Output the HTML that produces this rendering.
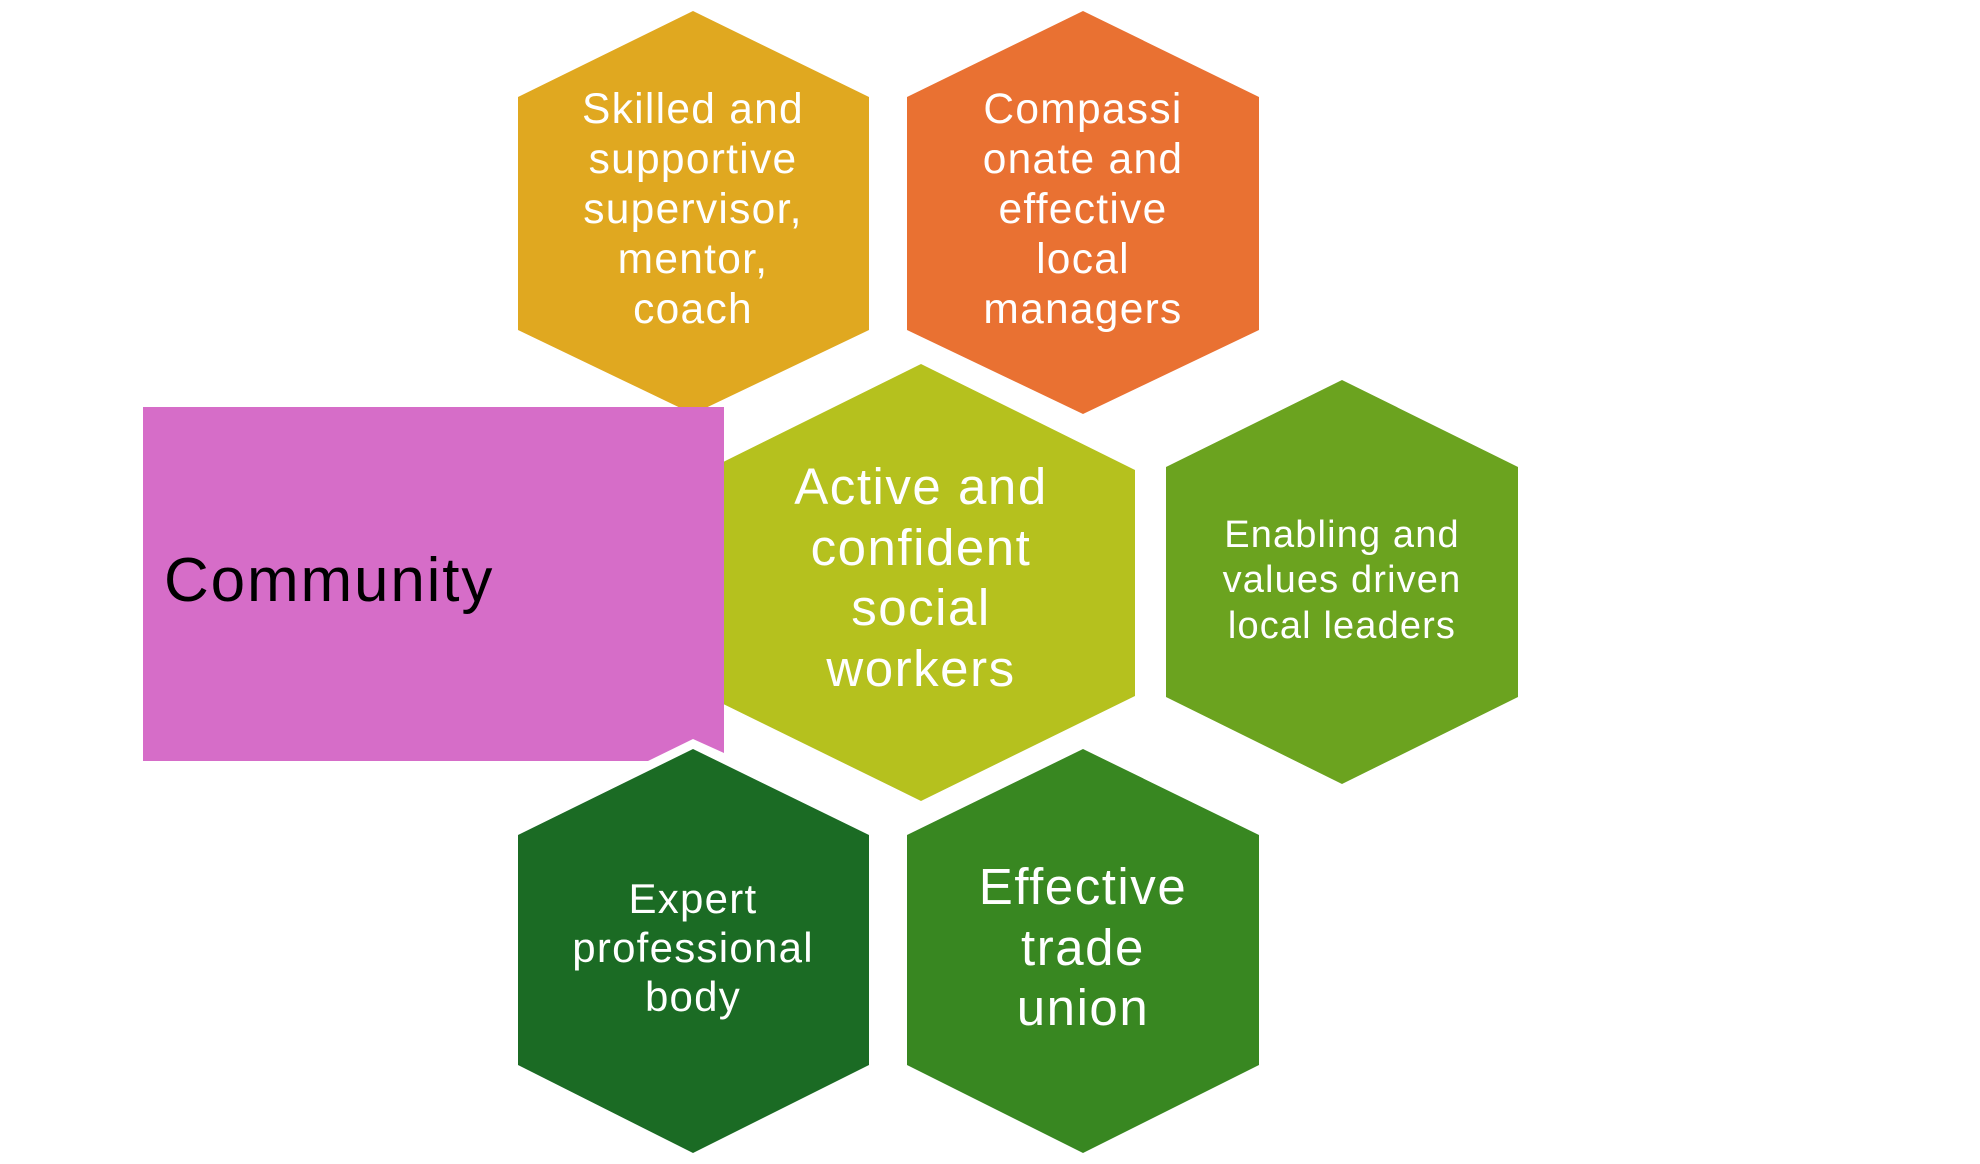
<!DOCTYPE html>
<html><head><meta charset="utf-8"><style>
html,body{margin:0;padding:0;background:#fff;}
svg{display:block;}
text{font-family:"Liberation Sans",sans-serif;fill:#fff;text-anchor:middle;letter-spacing:0.03em;}
</style></head><body>
<svg width="1980" height="1164" viewBox="0 0 1980 1164" xmlns="http://www.w3.org/2000/svg">
<polygon points="693,11 869,97 869,330 693,414 518,330 518,97" fill="#E0A820"/>
<polygon points="1083,11 1259,97 1259,330 1083,414 907,330 907,97" fill="#E97132"/>
<polygon points="921,364 1135,470 1135,696 921,801 707,696 707,470" fill="#B5C11E"/>
<polygon points="1342,380 1518,467 1518,697 1342,784 1166,697 1166,467" fill="#6BA31F"/>
<polygon points="693,749 869,835 869,1065 693,1153 518,1065 518,835" fill="#1B6B24"/>
<polygon points="1083,749 1259,835 1259,1065 1083,1153 907,1065 907,835" fill="#388721"/>
<polygon points="143,407 724,407 724,753 693,739 648,761 143,761" fill="#D66DC8"/>

<text font-size="42.5"><tspan x="693" y="123">Skilled and</tspan><tspan x="693" y="173">supportive</tspan><tspan x="693" y="223">supervisor,</tspan><tspan x="693" y="273">mentor,</tspan><tspan x="693" y="323">coach</tspan></text>
<text font-size="42.5"><tspan x="1083" y="123">Compassi</tspan><tspan x="1083" y="173">onate and</tspan><tspan x="1083" y="223">effective</tspan><tspan x="1083" y="273">local</tspan><tspan x="1083" y="323">managers</tspan></text>
<text font-size="51"><tspan x="921" y="504">Active and</tspan><tspan x="921" y="565">confident</tspan><tspan x="921" y="625">social</tspan><tspan x="921" y="686">workers</tspan></text>
<text font-size="38"><tspan x="1342" y="547">Enabling and</tspan><tspan x="1342" y="592">values driven</tspan><tspan x="1342" y="638">local leaders</tspan></text>
<text font-size="42"><tspan x="693" y="913">Expert</tspan><tspan x="693" y="962">professional</tspan><tspan x="693" y="1011">body</tspan></text>
<text font-size="51"><tspan x="1083" y="904">Effective</tspan><tspan x="1083" y="965">trade</tspan><tspan x="1083" y="1025">union</tspan></text>
<text font-size="62" x="164" y="601" style="fill:#000;text-anchor:start">Community</text>
</svg>
</body></html>
